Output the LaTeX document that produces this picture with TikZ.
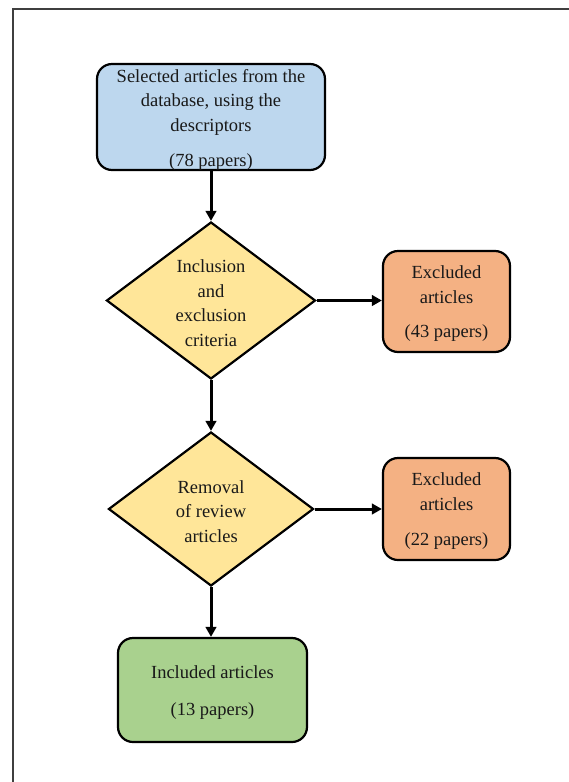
\documentclass[tikz,border=0pt]{standalone}
\usepackage{fontspec}
\setmainfont{Liberation Serif}
\usetikzlibrary{shapes.geometric,arrows.meta}
\definecolor{cblue}{HTML}{BDD7EE}
\definecolor{cyellow}{HTML}{FFE699}
\definecolor{corange}{HTML}{F4B183}
\definecolor{cgreen}{HTML}{A9D18E}
\definecolor{frame}{HTML}{3F3F3F}
\begin{document}
\begin{tikzpicture}[x=1pt,y=-1pt,
  txt/.style={font=\fontsize{18.5}{24.5}\selectfont, align=center, text=black!90, yshift=-2.5pt},
  box/.style={draw=black, line width=2.2pt, rounded corners=15pt, inner sep=0pt},
  dia/.style={diamond, draw=black, line width=2.2pt, fill=cyellow, inner sep=0pt, minimum width=#1},
  arr/.style={line width=3pt, -{Triangle[length=10pt,width=10.5pt]}}
]
\useasboundingbox (0,0) rectangle (568,782);
\fill[white] (0,0) rectangle (568,782);
\draw[frame, line width=2pt] (12.5,790) -- (12.5,8.5) -- (575,8.5);

\node[box, fill=cblue, minimum width=228pt, minimum height=106pt,
  label={[txt]center:Selected articles from the\\database, using the\\descriptors\\[10.5pt](78 papers)}] (sel) at (211,117) {};

\node[dia=209pt, minimum height=157pt, label={[txt]center:Inclusion\\and\\exclusion\\criteria}] (d1) at (211,300.5) {};

\node[dia=205pt, minimum height=154pt, label={[txt]center:Removal\\of review\\articles}] (d2) at (211,509) {};

\node[box, fill=corange, minimum width=127pt, minimum height=101pt,
  label={[txt]center:Excluded\\articles\\[10pt](43 papers)}] (ex1) at (446.5,301.5) {};

\node[box, fill=corange, minimum width=127pt, minimum height=102pt,
  label={[txt]center:Excluded\\articles\\[11pt](22 papers)}] (ex2) at (446.5,509) {};

\node[box, fill=cgreen, minimum width=189pt, minimum height=104pt,
  label={[txt]center:Included articles\\[12.5pt](13 papers)}] (inc) at (212.5,690) {};

\draw[arr] (sel.south -| d1.north) -- (d1.north);
\draw[arr] (d1.south) -- (d2.north);
\draw[arr] (d2.south) -- (d2.south |- inc.north);
\draw[arr] (d1.east) -- (d1.east -| ex1.west);
\draw[arr] (d2.east) -- (d2.east -| ex2.west);
\end{tikzpicture}
\end{document}
